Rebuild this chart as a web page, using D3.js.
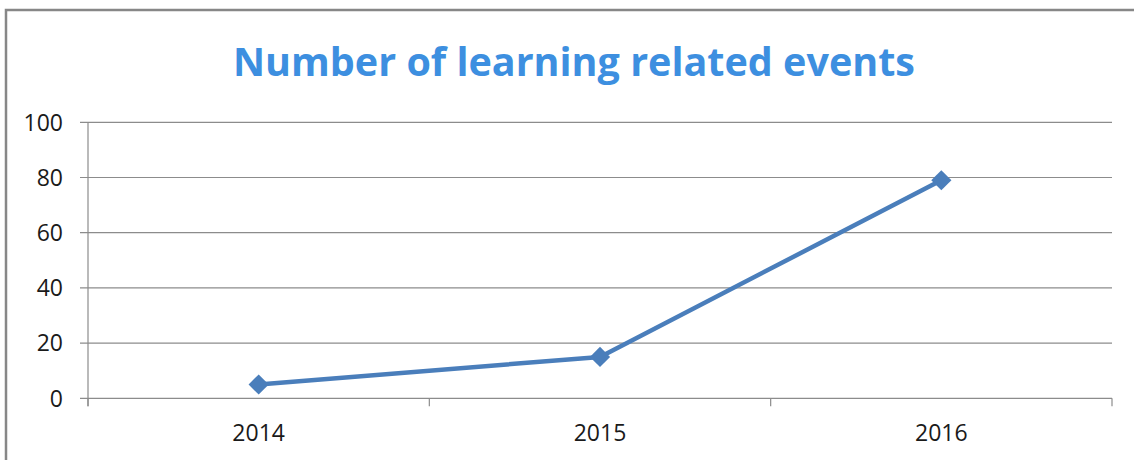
<!DOCTYPE html>
<html>
<head>
<meta charset="utf-8">
<script src="https://cdn.jsdelivr.net/npm/d3@7"></script>
<style>
body { margin: 0; background: #fff; }
</style>
</head>
<body>
<div class="content"></div>
<script>
var years = ["2014", "2015", "2016"];
var events = [5, 15, 79];
var yTicks = [0, 20, 40, 60, 80, 100];
var chartTitle = "Number of learning related events";

var width = 1134;
var height = 460;
var margin = {left: 88, right: 22, top: 122.3, bottom: 61.7};

var svg = d3.select(".content").append("svg").attr("width", width).attr("height", height);

// outer chart border (only top & left visible in the crop)
svg.append("path").attr("d", "M6,470V10H1140")
  .attr("stroke", "#878787").attr("stroke-width", 2.5).attr("fill", "none");

svg.append("text").text(chartTitle)
  .attr("x", 574).attr("y", 76)
  .attr("text-anchor", "middle")
  .attr("font-family", "Open Sans, Lato, sans-serif")
  .attr("font-weight", "bold")
  .attr("font-size", 40)
  .attr("fill", "#3d8fe0")
  .attr("textLength", 682).attr("lengthAdjust", "spacingAndGlyphs");

var x = d3.scaleBand().domain(years).range([margin.left, width - margin.right]);
var y = d3.scaleLinear().domain([0, 100]).range([height - margin.bottom, margin.top]);

// gridlines + y ticks
svg.append("g").selectAll("line").data(yTicks).enter().append("line")
  .attr("x1", margin.left - 8).attr("x2", width - margin.right)
  .attr("y1", function(d){ return y(d); }).attr("y2", function(d){ return y(d); })
  .attr("stroke", "#8c8c8c").attr("stroke-width", 1.2);

svg.append("g").selectAll("text").data(yTicks).enter().append("text")
  .attr("x", 63).attr("y", function(d){ return y(d); })
  .attr("dy", "0.36em")
  .attr("text-anchor", "end")
  .attr("font-family", "Open Sans, sans-serif")
  .attr("font-size", 23)
  .attr("fill", "#1a1a1a")
  .text(function(d){ return d; });

// y axis line
svg.append("line")
  .attr("x1", margin.left).attr("x2", margin.left)
  .attr("y1", margin.top).attr("y2", y(0) + 8)
  .attr("stroke", "#8c8c8c").attr("stroke-width", 1.2);

// x axis ticks (category boundaries)
var bounds = years.map(function(d){ return x(d); }).concat([x(years[years.length - 1]) + x.bandwidth()]);
svg.append("g").selectAll("line").data(bounds).enter().append("line")
  .attr("x1", function(d){ return d; }).attr("x2", function(d){ return d; })
  .attr("y1", y(0)).attr("y2", y(0) + 8)
  .attr("stroke", "#8c8c8c").attr("stroke-width", 1.2);

svg.append("g").selectAll("text").data(years).enter().append("text")
  .attr("x", function(d){ return x(d) + x.bandwidth() / 2; })
  .attr("y", 432.5).attr("dy", "0.36em")
  .attr("text-anchor", "middle")
  .attr("font-family", "Open Sans, sans-serif")
  .attr("font-size", 23)
  .attr("fill", "#1a1a1a")
  .text(function(d){ return d; });

var pts = years.map(function(d, i){ return [x(d) + x.bandwidth() / 2, y(events[i])]; });

var line = d3.line();
svg.append("path").attr("d", line(pts))
  .attr("stroke", "#4a7ebb").attr("stroke-width", 4.5)
  .attr("stroke-linejoin", "round").attr("fill", "none");

var diamond = d3.symbol().type(d3.symbolDiamond2).size(260);
svg.append("g").selectAll("path").data(pts).enter().append("path")
  .attr("d", diamond)
  .attr("transform", function(d){ return "translate(" + d[0] + "," + d[1] + ")"; })
  .attr("fill", "#4a7ebb");
</script>
</body>
</html>
